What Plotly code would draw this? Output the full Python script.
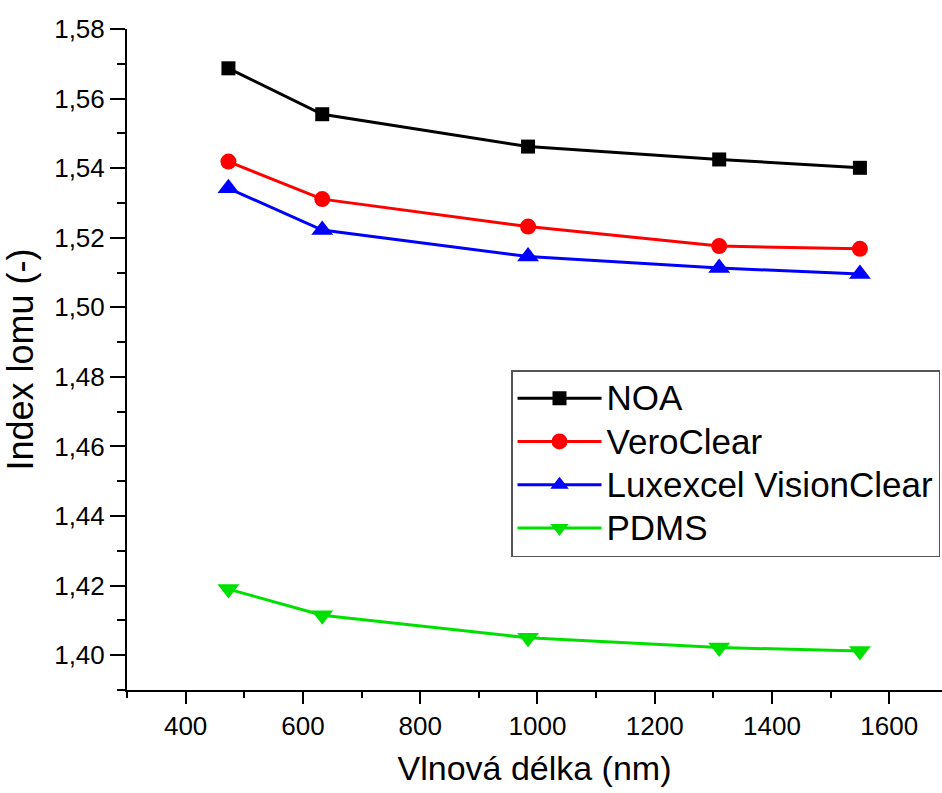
import plotly.graph_objects as go

wavelength = [473, 633, 984, 1310, 1550]
noa = [1.5687, 1.5555, 1.5462, 1.5425, 1.5401]
veroclear = [1.5419, 1.5311, 1.5232, 1.5176, 1.5168]
luxexcel = [1.5342, 1.5222, 1.5146, 1.5113, 1.5096]
pdms = [1.4190, 1.4115, 1.4050, 1.4022, 1.4012]

series = [
    ("NOA", noa, "#000000", "square", 14),
    ("VeroClear", veroclear, "#ff0000", "circle", 16),
    ("Luxexcel VisionClear", luxexcel, "#0000ff", "triangle-up", 19),
    ("PDMS", pdms, "#00e000", "triangle-down", 19),
]

FONT = "Liberation Sans, Arial, sans-serif"

fig = go.Figure()
for name, vals, color, sym, size in series:
    fig.add_trace(go.Scatter(
        x=wavelength, y=vals,
        name="<span style='font-size:35px'>" + name + "</span>",
        mode="lines+markers",
        line=dict(color=color, width=3),
        marker=dict(symbol=sym, size=size, color=color, line=dict(width=0)),
    ))

fig.update_layout(
    width=942, height=793,
    margin=dict(l=127, r=0, t=29, b=103),
    paper_bgcolor="white", plot_bgcolor="white",
    separators=", ",
    font=dict(family=FONT, color="#000000", size=26),
    showlegend=True,
    legend=dict(
        x=(511 - 127) / (942 - 127), y=(690 - 370) / (690 - 29),
        xanchor="left", yanchor="top",
        bordercolor="#555555", borderwidth=1.5, bgcolor="white",
        font=dict(family=FONT, size=31, color="#000000"),
        tracegroupgap=0, itemwidth=84,
    ),
)

fig.update_xaxes(
    range=[300, 1690], tick0=400, dtick=200, tickformat="d",
    showline=True, linecolor="#000000", linewidth=2, mirror=False,
    ticks="outside", ticklen=12, tickwidth=2, tickcolor="#000000",
    minor=dict(dtick=100, tick0=300, ticks="outside", ticklen=6, tickwidth=2, tickcolor="#000000"),
    showgrid=False, zeroline=False,
    tickfont=dict(size=26),
    title=dict(text="Vlnová délka (nm)", font=dict(size=34), standoff=16),
)
fig.update_yaxes(
    range=[1.39, 1.58], tick0=1.40, dtick=0.02, tickformat=".2f",
    showline=True, linecolor="#000000", linewidth=2, mirror=False,
    ticks="outside", ticklen=15, tickwidth=2, tickcolor="#000000",
    minor=dict(dtick=0.01, ticks="outside", ticklen=8, tickwidth=2, tickcolor="#000000"),
    showgrid=False, zeroline=False,
    tickfont=dict(size=26),
    title=dict(text="Index lomu (-)", font=dict(size=36), standoff=10),
)

fig.write_html("out.html")
